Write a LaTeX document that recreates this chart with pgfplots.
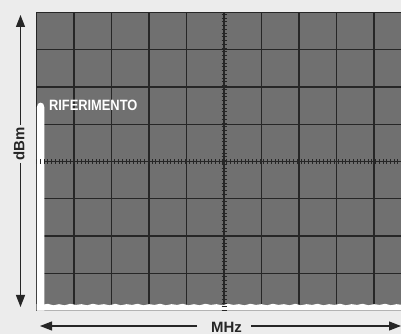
\documentclass[border=0pt]{standalone}
\usepackage{fontspec}
\setmainfont{Liberation Sans}
\newfontfamily\cond{Liberation Sans}[FakeStretch=0.86]
\usepackage{pgfplots}
\pgfplotsset{compat=1.18}
\usetikzlibrary{decorations.pathreplacing, arrows.meta}
\definecolor{scr}{RGB}{112,112,112}
\definecolor{grd}{RGB}{38,38,38}
\definecolor{bg}{RGB}{236,236,236}
\begin{document}
\begin{tikzpicture}
\path[use as bounding box, fill=bg] (0bp,0bp) rectangle (401bp,334bp);
\clip (0bp,0bp) rectangle (401bp,334bp);
\begin{axis}[
  at={(36.5bp,23.5bp)}, anchor=south west,
  scale only axis, width=375bp, height=298bp,
  xmin=0, xmax=10, ymin=0, ymax=8,
  xtick={0,...,10}, ytick={0,...,8},
  xticklabels={}, yticklabels={},
  major tick length=0pt,
  grid=major, grid style={grd, line width=1.2bp},
  axis line style={grd, line width=1.8bp},
  axis background/.style={fill=scr},
  clip=true,
]
% noise floor
\addplot[fill=white, draw=none] coordinates {
(0,0) (0,0.17) (0.15,0.15) (0.3,0.18) (0.45,0.14) (0.6,0.17) (0.75,0.14) (0.9,0.18)
(1.05,0.15) (1.2,0.17) (1.35,0.14) (1.5,0.18) (1.65,0.15) (1.8,0.17) (1.95,0.14)
(2.1,0.18) (2.25,0.14) (2.4,0.17) (2.55,0.15) (2.7,0.18) (2.85,0.14) (3.0,0.17)
(3.15,0.15) (3.3,0.18) (3.45,0.14) (3.6,0.17) (3.75,0.15) (3.9,0.18) (4.05,0.14)
(4.2,0.17) (4.35,0.14) (4.5,0.18) (4.65,0.15) (4.8,0.17) (4.95,0.14) (5.1,0.18)
(5.25,0.15) (5.4,0.17) (5.55,0.14) (5.7,0.18) (5.85,0.15) (6.0,0.17) (6.15,0.14)
(6.3,0.18) (6.45,0.15) (6.6,0.17) (6.75,0.14) (6.9,0.18) (7.05,0.14) (7.2,0.17)
(7.35,0.15) (7.5,0.18) (7.65,0.14) (7.8,0.17) (7.95,0.15) (8.1,0.18) (8.25,0.14)
(8.4,0.17) (8.55,0.15) (8.7,0.18) (8.85,0.14) (9.0,0.17) (9.15,0.15) (9.3,0.18)
(9.45,0.14) (9.6,0.17) (9.75,0.15) (9.9,0.18) (10,0.16) (10,0)
} -- cycle;
% reference signal
\addplot[fill=white, draw=none] coordinates {
(0.01,0) (0.01,5.45) (0.04,5.55) (0.11,5.58) (0.18,5.55) (0.21,5.45) (0.21,0)
} -- cycle;
\draw[grd, line width=0.7bp, decorate, decoration={ticks, segment length=3.75bp, amplitude=2.5bp}]
  (axis cs:5,0) -- (axis cs:5,8);
\draw[grd, line width=0.7bp, decorate, decoration={ticks, segment length=3.725bp, amplitude=2.5bp}]
  (axis cs:0,4) -- (axis cs:10,4);
\node[white, anchor=base west, inner sep=0pt, font=\cond\bfseries\fontsize{15}{15}\selectfont]
  at (axis cs:0.33,5.37) {RIFERIMENTO};
\end{axis}
% outer arrows
\draw[grd, line width=1.2bp, -{Triangle[length=12bp,width=9bp]}] (20.5bp,209bp) -- (20.5bp,319bp);
\draw[grd, line width=1.2bp, -{Triangle[length=12bp,width=9bp]}] (20.5bp,171bp) -- (20.5bp,27bp);
\node[grd, rotate=90, inner sep=0pt, font=\bfseries\fontsize{15}{15}\selectfont] at (19bp,190bp) {dBm};
\draw[grd, line width=1.2bp, -{Triangle[length=12bp,width=9bp]}] (197bp,8bp) -- (40bp,8bp);
\draw[grd, line width=1.2bp, -{Triangle[length=12bp,width=9bp]}] (251bp,8bp) -- (401bp,8bp);
\node[grd, anchor=south, inner sep=0pt, font=\bfseries\fontsize{15}{15}\selectfont] at (226.5bp,1.5bp) {MHz};
\end{tikzpicture}
\end{document}
